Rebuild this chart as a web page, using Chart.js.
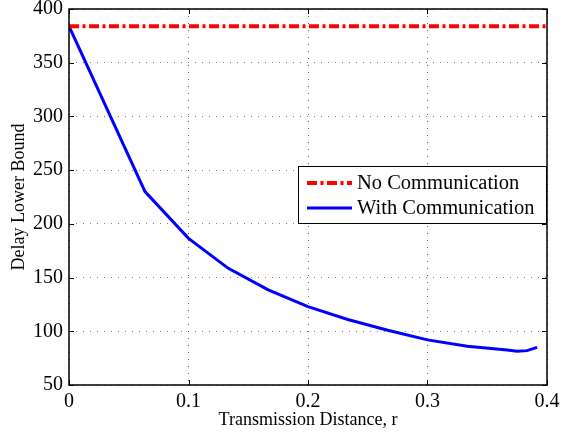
<!DOCTYPE html>
<html>
<head>
<meta charset="utf-8">
<script src="https://cdn.jsdelivr.net/npm/chart.js@4.4.1/dist/chart.umd.min.js"></script>
<style>
  html, body { margin: 0; padding: 0; background: #fff; }
  #wrap { width: 561px; height: 436px; }
</style>
</head>
<body>
<div id="wrap"><canvas id="chart" width="561" height="436"></canvas></div>
<script>
// distance samples and delay values
const distances = [0, 0.0636, 0.1, 0.1333, 0.1667, 0.2, 0.2333, 0.2667, 0.3, 0.3333, 0.3667, 0.375, 0.3833, 0.3917];
const withCommDelay = [384, 230, 186.5, 158.6, 138.5, 123, 111, 101, 92, 86, 82.5, 81.5, 82, 85];
const noCommX = [0, 0.4];
const noCommDelay = [384, 384];
const xTicks = [0, 0.1, 0.2, 0.3, 0.4];
const yTicks = [50, 100, 150, 200, 250, 300, 350, 400];
const legendLabels = ["No Communication", "With Communication"];

const serif = "'Liberation Serif', 'Times New Roman', serif";

function toPoints(xs, ys) {
    return xs.map(function (x, i) { return { x: x, y: ys[i] }; });
}

// black box round the plot with inward tick marks, MATLAB style
const framePlugin = {
    id: "frame",
    afterDatasetsDraw: function (chart) {
        const ctx = chart.ctx;
        const a = chart.chartArea;
        const xs = chart.scales.x, ys = chart.scales.y;
        ctx.save();
        ctx.strokeStyle = "#000";
        ctx.lineWidth = 1.5;
        ctx.strokeRect(a.left, a.top, a.right - a.left, a.bottom - a.top);
        ctx.lineWidth = 1;
        ctx.beginPath();
        xTicks.forEach(function (v) {
            const px = Math.round(xs.getPixelForValue(v)) + 0.5;
            ctx.moveTo(px, a.bottom); ctx.lineTo(px, a.bottom - 5);
            ctx.moveTo(px, a.top); ctx.lineTo(px, a.top + 5);
        });
        yTicks.forEach(function (v) {
            const py = Math.round(ys.getPixelForValue(v)) + 0.5;
            ctx.moveTo(a.left, py); ctx.lineTo(a.left + 5, py);
            ctx.moveTo(a.right, py); ctx.lineTo(a.right - 5, py);
        });
        ctx.stroke();
        ctx.restore();
    }
};

// legend box inside the plot
const legendPlugin = {
    id: "boxLegend",
    afterDraw: function (chart) {
        const ctx = chart.ctx;
        const left = 298, top = 166, w = 248, h = 57;
        ctx.save();
        ctx.fillStyle = "#fff";
        ctx.fillRect(left, top, w, h);
        ctx.strokeStyle = "#000";
        ctx.lineWidth = 1;
        ctx.strokeRect(left + 0.5, top + 0.5, w, h);
        ctx.font = "20.5px " + serif;
        ctx.textBaseline = "middle";
        ctx.fillStyle = "#000";
        chart.data.datasets.forEach(function (ds, i) {
            const y = top + 17 + i * 25;
            ctx.strokeStyle = ds.borderColor;
            ctx.lineWidth = ds.borderWidth;
            ctx.setLineDash(ds.borderDash || []);
            ctx.beginPath();
            ctx.moveTo(left + 9, y);
            ctx.lineTo(left + 54, y);
            ctx.stroke();
            ctx.setLineDash([]);
            ctx.fillText(legendLabels[i], left + 59, y + 1);
        });
        ctx.restore();
    }
};

const ctx = document.getElementById("chart").getContext("2d");

new Chart(ctx, {
    type: "line",
    data: {
        datasets: [
            {
                label: legendLabels[0],
                data: toPoints(noCommX, noCommDelay),
                borderColor: "#ff0000",
                borderWidth: 4,
                borderDash: [10, 3.5, 3, 3.5],
                pointRadius: 0,
                fill: false,
            },
            {
                label: legendLabels[1],
                data: toPoints(distances, withCommDelay),
                borderColor: "#0000ff",
                borderWidth: 3,
                pointRadius: 0,
                tension: 0,
                fill: false,
            },
        ],
    },
    options: {
        responsive: false,
        animation: false,
        events: [],
        layout: {
            padding: { top: 9, right: 14, left: 0, bottom: 0 },
        },
        plugins: {
            legend: { display: false },
            tooltip: { enabled: false },
        },
        scales: {
            x: {
                type: "linear",
                min: 0,
                max: 0.4,
                afterBuildTicks: function (scale) {
                    scale.ticks = xTicks.map(function (v) { return { value: v }; });
                },
                afterFit: function (scale) {
                    scale.height = 51;
                    scale.paddingLeft = 0;
                    scale.paddingRight = 0;
                },
                grid: { color: "rgba(0,0,0,0.6)", lineWidth: 1, drawTicks: false },
                border: { display: false, dash: [1, 6] },
                ticks: {
                    padding: 5,
                    color: "#000",
                    font: { family: serif, size: 20 },
                    callback: function (v) { return String(+v.toFixed(1)); },
                },
                title: {
                    display: true,
                    text: "Transmission Distance, r",
                    color: "#000",
                    font: { family: serif, size: 18 },
                    padding: 5,
                },
            },
            y: {
                min: 50,
                max: 400,
                afterBuildTicks: function (scale) {
                    scale.ticks = yTicks.map(function (v) { return { value: v }; });
                },
                afterFit: function (scale) {
                    scale.width = 69;
                    scale.paddingTop = 0;
                    scale.paddingBottom = 0;
                },
                grid: { color: "rgba(0,0,0,0.5)", lineWidth: 1, drawTicks: false },
                border: { display: false, dash: [1, 6] },
                ticks: {
                    padding: 6,
                    color: "#000",
                    font: { family: serif, size: 20 },
                },
                title: {
                    display: true,
                    text: "Delay Lower Bound",
                    color: "#000",
                    font: { family: serif, size: 18 },
                    padding: 8,
                },
            },
        },
    },
    plugins: [framePlugin, legendPlugin],
});
</script>
</body>
</html>
